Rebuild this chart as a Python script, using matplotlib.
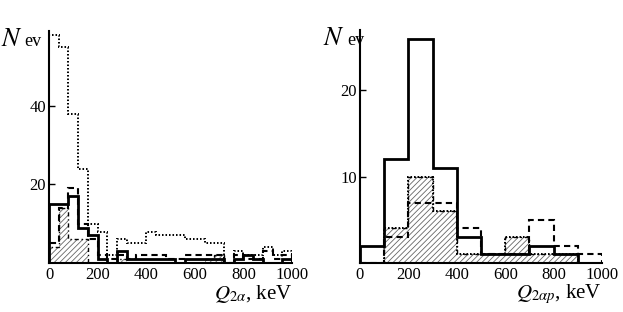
import numpy as np
import matplotlib.pyplot as plt

plt.rcParams['font.family'] = ['Liberation Serif', 'DejaVu Serif']
plt.rcParams['mathtext.fontset'] = 'stix'
plt.rcParams['hatch.linewidth'] = 0.6

# left panel: Q_2alpha, 40 keV bins
left_edges = np.arange(0, 1001, 40)
left_dotted = [58, 55, 38, 24, 10, 8, 2, 6, 5, 5, 8, 7, 7, 7, 6, 6, 5, 5, 0, 3, 2, 2, 4, 2, 3]
left_dashed = [5, 14, 19, 10, 6, 2, 1, 2, 1, 2, 2, 2, 1, 1, 2, 2, 2, 2, 0, 2, 1, 1, 3, 1, 2]
left_solid = [15, 15, 17, 9, 7, 1, 0, 3, 1, 1, 1, 1, 1, 0, 1, 1, 1, 1, 0, 1, 2, 1, 0, 0, 1]
left_hatched = [4, 14, 6, 6, 0, 0, 0, 1, 0, 0, 0, 0, 0, 0, 0, 0, 1, 2, 0, 0, 0, 0, 0, 0, 0]

# right panel: Q_2alpha p, 100 keV bins
right_edges = np.arange(0, 1001, 100)
right_solid = [2, 12, 26, 11, 3, 1, 1, 2, 1, 0]
right_dashed = [0, 3, 7, 7, 4, 1, 1, 5, 2, 1]
right_dotted = [0, 4, 10, 6, 1, 1, 3, 1, 1, 0]


def draw_panel(ax, edges, solid, dashed, dotted, hatched, ymax, yticks, xlabel, nx):
    ax.stairs(hatched, edges, fill=True, facecolor='white', edgecolor='#666666',
              hatch='//////', linewidth=0)
    ax.stairs(hatched, edges, color='black', linestyle=(0, (3, 2, 1, 2)), linewidth=1.0)
    ax.stairs(dotted, edges, color='black', linestyle=(0, (0.8, 1.0)), linewidth=1.4)
    ax.stairs(dashed, edges, color='black', linestyle=(0, (3, 2)), linewidth=1.5)
    ax.stairs(solid, edges, color='black', linewidth=2.0)
    ax.set_xlim(0, 1000)
    ax.set_ylim(0, ymax)
    ax.set_xticks([0, 200, 400, 600, 800, 1000])
    ax.set_yticks(yticks)
    ax.tick_params(axis='x', length=0, labelsize=12, pad=3)
    ax.tick_params(axis='y', direction='in', length=4, width=1, labelsize=12, pad=2)
    for s in ['top', 'right']:
        ax.spines[s].set_visible(False)
    ax.spines['left'].set_linewidth(1.5)
    ax.spines['bottom'].set_linewidth(1.5)
    ax.text(nx, 1.01, r'$N$', transform=ax.transAxes, fontsize=19,
            ha='right', va='top')
    ax.text(nx + 0.01, 0.99, 'ev', transform=ax.transAxes, fontsize=13,
            ha='left', va='top')
    ax.text(1.0, -0.135, xlabel, transform=ax.transAxes, fontsize=15,
            ha='right', va='center')


fig = plt.figure(figsize=(6.23, 3.12), dpi=100)
ax1 = fig.add_axes([49 / 623, 49 / 312, 243 / 623, 232 / 312])
ax2 = fig.add_axes([360 / 623, 49 / 312, 242 / 623, 233 / 312])

draw_panel(ax1, left_edges, left_solid, left_dashed, left_dotted, left_hatched,
           59, [20, 40], r'$Q_{2\alpha}$, keV', -0.11)
draw_panel(ax2, right_edges, right_solid, right_dashed, right_dotted, right_dotted,
           27, [10, 20], r'$Q_{2\alpha p}$, keV', -0.062)

fig.savefig('out.png', dpi=100)
